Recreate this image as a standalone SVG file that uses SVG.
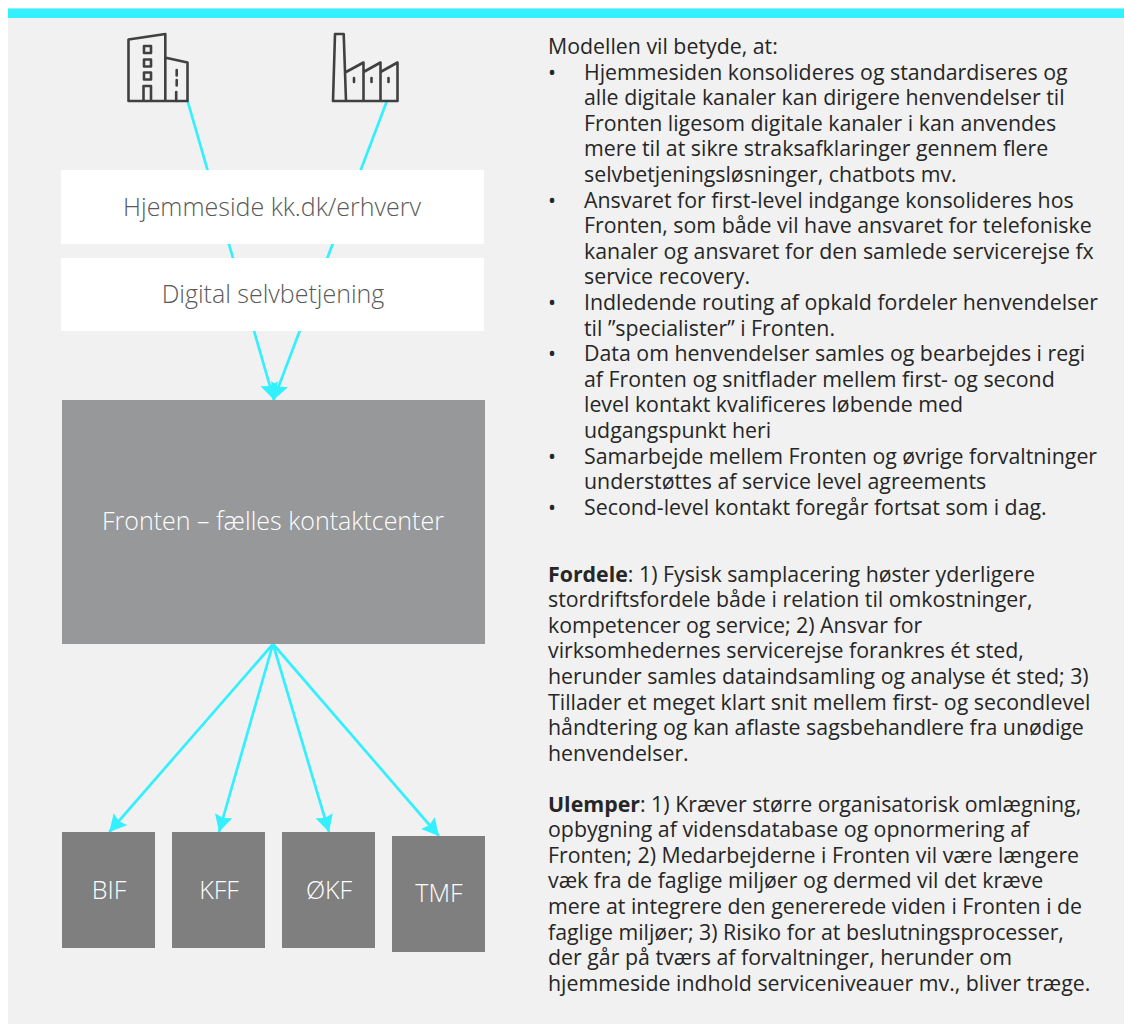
<svg xmlns="http://www.w3.org/2000/svg" width="1124" height="1024" viewBox="0 0 1124 1024">
<style>
.t{font-family:"Open Sans","Noto Sans",sans-serif;font-size:21.33px;fill:#262626}
.n{font-family:"Open Sans","Noto Sans",sans-serif;text-anchor:middle;font-size:25px;font-weight:300}
.w{fill:#fff}.g{fill:#595959}
.ic{fill:none;stroke:#404040;stroke-width:2.6;stroke-linejoin:round;stroke-linecap:round}
.c{fill:none;stroke:#33f0ff;stroke-width:2.7}
.b{font-weight:700}
</style>
<defs>
<marker id="a" markerUnits="userSpaceOnUse" markerWidth="20" markerHeight="20" refX="17" refY="9" orient="auto"><path d="M0 0L17 9L0 18L2.500 9Z" fill="#33f0ff"/></marker>
</defs>
<rect width="1124" height="1024" fill="#fff"/>
<rect x="8" y="8" width="1116" height="1016" fill="#f1f1f1"/>
<rect x="8" y="8.500" width="1116" height="9.500" fill="#33f0ff"/>
<g id="connectors">
<path class="c" d="M187.300 100L274 400" marker-end="url(#a)"/>
<path class="c" d="M387.300 100L273.500 400" marker-end="url(#a)"/>
<path class="c" d="M273 644L109.300 832" marker-end="url(#a)"/>
<path class="c" d="M273 644L219 832" marker-end="url(#a)"/>
<path class="c" d="M273 644L329 832" marker-end="url(#a)"/>
<path class="c" d="M273 644L439 836" marker-end="url(#a)"/>
</g>
<g id="icon-office" class="ic">
<path d="M128.500 101V39.500L165.300 34V101M128.500 101H187.500V62.500L167 58M143.500 101V86H151V101"/>
<rect x="144" y="46" width="7" height="7"/>
<rect x="144" y="59.500" width="7" height="7"/>
<rect x="144" y="72.500" width="7" height="7"/>
<path d="M176.700 70V75.500M176.700 80V85.500M176.200 92V101"/>
</g>
<g id="icon-factory" class="ic">
<path d="M333 101L335 34H343.700L346 101M333 101H397.500V62.500L380.500 72V62.500L363.500 72V62.500L346 72M363.500 72V101M380.500 72V101"/>
<path d="M354 78V82M371.500 78V82M388.500 78V82"/>
</g>
<g id="node-hjemmeside"><rect x="61" y="170" width="423" height="74" fill="#fff"/><text class="n g" x="272" y="216">Hjemmeside kk.dk/erhverv</text></g>
<g id="node-selvbetjening"><rect x="61" y="258" width="423" height="73" fill="#fff"/><text class="n g" x="273" y="303">Digital selvbetjening</text></g>
<g id="node-fronten"><rect x="62" y="400" width="423" height="244" fill="#97989a"/><text class="n w" x="273" y="530">Fronten – fælles kontaktcenter</text></g>
<g id="node-bif"><rect x="62" y="832" width="93" height="116" fill="#7f7f7f"/><text class="n w" x="109" y="899">BIF</text></g>
<g id="node-kff"><rect x="172" y="832" width="93" height="116" fill="#7f7f7f"/><text class="n w" x="219" y="899">KFF</text></g>
<g id="node-okf"><rect x="282" y="832" width="93" height="116" fill="#7f7f7f"/><text class="n w" x="329" y="899">ØKF</text></g>
<g id="node-tmf"><rect x="392" y="836" width="93" height="116" fill="#7f7f7f"/><text class="n w" x="439" y="902">TMF</text></g>
<g id="text">
<text class="t" x="548" y="54">Modellen vil betyde, at:</text>
<text class="t" x="548" y="79.600">•</text><text class="t" x="584" y="79.600">Hjemmesiden konsolideres og standardiseres og</text>
<text class="t" x="584" y="105.200">alle digitale kanaler kan dirigere henvendelser til</text>
<text class="t" x="584" y="130.800">Fronten ligesom digitale kanaler i kan anvendes</text>
<text class="t" x="584" y="156.400">mere til at sikre straksafklaringer gennem flere</text>
<text class="t" x="584" y="182">selvbetjeningsløsninger, chatbots mv.</text>
<text class="t" x="548" y="207.600">•</text><text class="t" x="584" y="207.600">Ansvaret for first-level indgange konsolideres hos</text>
<text class="t" x="584" y="233.200">Fronten, som både vil have ansvaret for telefoniske</text>
<text class="t" x="584" y="258.800">kanaler og ansvaret for den samlede servicerejse fx</text>
<text class="t" x="584" y="284.400">service recovery.</text>
<text class="t" x="548" y="310">•</text><text class="t" x="584" y="310">Indledende routing af opkald fordeler henvendelser</text>
<text class="t" x="584" y="335.600">til ”specialister” i Fronten.</text>
<text class="t" x="548" y="361.200">•</text><text class="t" x="584" y="361.200">Data om henvendelser samles og bearbejdes i regi</text>
<text class="t" x="584" y="386.800">af Fronten og snitflader mellem first- og second</text>
<text class="t" x="584" y="412.400">level kontakt kvalificeres løbende med</text>
<text class="t" x="584" y="438">udgangspunkt heri</text>
<text class="t" x="548" y="463.600">•</text><text class="t" x="584" y="463.600">Samarbejde mellem Fronten og øvrige forvaltninger</text>
<text class="t" x="584" y="489.200">understøttes af service level agreements</text>
<text class="t" x="548" y="514.800">•</text><text class="t" x="584" y="514.800">Second-level kontakt foregår fortsat som i dag.</text>
<text class="t" x="548" y="581.500"><tspan class="b">Fordele</tspan>: 1) Fysisk samplacering høster yderligere</text>
<text class="t" x="548" y="607.100">stordriftsfordele både i relation til omkostninger,</text>
<text class="t" x="548" y="632.700">kompetencer og service; 2) Ansvar for</text>
<text class="t" x="548" y="658.300">virksomhedernes servicerejse forankres ét sted,</text>
<text class="t" x="548" y="683.900">herunder samles dataindsamling og analyse ét sted; 3)</text>
<text class="t" x="548" y="709.500">Tillader et meget klart snit mellem first- og secondlevel</text>
<text class="t" x="548" y="735.100">håndtering og kan aflaste sagsbehandlere fra unødige</text>
<text class="t" x="548" y="760.700">henvendelser.</text>
<text class="t" x="548" y="811.500"><tspan class="b">Ulemper</tspan>: 1) Kræver større organisatorisk omlægning,</text>
<text class="t" x="548" y="837.100">opbygning af vidensdatabase og opnormering af</text>
<text class="t" x="548" y="862.700">Fronten; 2) Medarbejderne i Fronten vil være længere</text>
<text class="t" x="548" y="888.300">væk fra de faglige miljøer og dermed vil det kræve</text>
<text class="t" x="548" y="913.900">mere at integrere den genererede viden i Fronten i de</text>
<text class="t" x="548" y="939.500">faglige miljøer; 3) Risiko for at beslutningsprocesser,</text>
<text class="t" x="548" y="965.100">der går på tværs af forvaltninger, herunder om</text>
<text class="t" x="548" y="990.700">hjemmeside indhold serviceniveauer mv., bliver træge.</text>
</g>
</svg>
